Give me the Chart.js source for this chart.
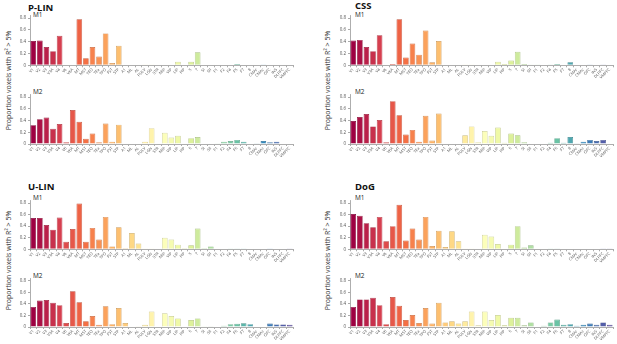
<!DOCTYPE html>
<html>
<head>
<meta charset="utf-8">
<script src="https://cdn.jsdelivr.net/npm/chart.js@4.4.0/dist/chart.umd.min.js"></script>
<style>
body{margin:0;background:#fff;width:617px;height:344px;position:relative;overflow:hidden;font-family:"Open Sans",sans-serif}
canvas{position:absolute}
.ttl{position:absolute;font-weight:bold;font-size:9.5px;color:#111;line-height:1}
.sub{position:absolute;font-size:6.5px;color:#222;line-height:1}
.ylab{position:absolute;width:140px;text-align:center;font-size:7px;color:#333;line-height:1;transform:rotate(-90deg);white-space:nowrap}
</style>
</head>
<body>
<div class="ttl" style="left:28px;top:3px">P-LIN</div>
<div class="ttl" style="left:355px;top:1px">CSS</div>
<div class="ttl" style="left:28px;top:182px">U-LIN</div>
<div class="ttl" style="left:355px;top:182px">DoG</div>
<div class="sub" style="left:33px;top:12px">M1</div>
<div class="sub" style="left:33px;top:89px">M2</div>
<div class="sub" style="left:355px;top:12px">M1</div>
<div class="sub" style="left:355px;top:89px">M2</div>
<div class="sub" style="left:33px;top:195px">M1</div>
<div class="sub" style="left:33px;top:273px">M2</div>
<div class="sub" style="left:355px;top:195px">M1</div>
<div class="sub" style="left:355px;top:273px">M2</div>
<div class="ylab" style="left:-62px;top:77px">Proportion voxels with R² &gt; 5%</div>
<div class="ylab" style="left:257px;top:77px">Proportion voxels with R² &gt; 5%</div>
<div class="ylab" style="left:-62px;top:257px">Proportion voxels with R² &gt; 5%</div>
<div class="ylab" style="left:257px;top:257px">Proportion voxels with R² &gt; 5%</div>
<canvas id="plinM1"></canvas>
<canvas id="plinM2"></canvas>
<canvas id="cssM1"></canvas>
<canvas id="cssM2"></canvas>
<canvas id="ulinM1"></canvas>
<canvas id="ulinM2"></canvas>
<canvas id="dogM1"></canvas>
<canvas id="dogM2"></canvas>
<script>
var areas = ["V1","V2","V3","V3A","V4","V6","V6A","MT","MST","TEO",
             "TEa","TPO","FST","STP","A1","ML","AL","PULV","LGN","STR",
             "MIP","VIP","LIP","PIP","5","7","SI","SII","F1","F2",
             "F4","F5","F7","8","CMAr","CMAc","OFC","INS","DLPFC","VMPFC"];

var yTicks = [0, 0.2, 0.4, 0.6, 0.8];

var plinM1 = [0.41,0.42,0.31,0.24,0.50,0,0.01,0.78,0.12,0.31,
              0.15,0.54,0.04,0.33,0,0,0,0.003,0.005,0,
              0.008,0,0.06,0.01,0.06,0.22,0.01,0,0,0,
              0,0.02,0,0.01,0,0.005,0,0,0.01,0];
var plinM2 = [0.32,0.42,0.45,0.26,0.34,0.03,0.58,0.38,0.09,0.18,
              0.03,0.35,0.04,0.33,0,0.01,0.01,0.04,0.27,0.01,
              0.19,0.11,0.14,0.01,0.10,0.12,0.01,0,0.003,0.04,
              0.05,0.07,0.04,0,0.005,0.05,0.03,0.04,0,0];
var cssM1 = [0.42,0.43,0.31,0.24,0.51,0,0.02,0.78,0.13,0.37,
             0.18,0.59,0.05,0.41,0,0,0,0.005,0.015,0,
             0.01,0,0.06,0.02,0.08,0.23,0.02,0.005,0.003,0,
             0.005,0.02,0,0.05,0,0.01,0.005,0,0.005,0];
var cssM2 = [0.39,0.46,0.51,0.30,0.41,0.03,0.73,0.49,0.16,0.24,
             0.04,0.48,0.06,0.52,0,0,0,0.15,0.30,0.03,
             0.22,0.14,0.28,0.02,0.18,0.15,0.03,0.01,0.01,0.01,
             0.02,0.10,0.02,0.12,0.005,0.04,0.07,0.05,0.07,0.01];
var ulinM1 = [0.54,0.54,0.42,0.34,0.55,0.13,0.35,0.79,0.13,0.37,
              0.17,0.56,0.05,0.38,0.02,0.28,0.10,0.003,0.005,0,
              0.20,0.17,0.08,0.02,0.07,0.36,0.02,0.05,0,0,
              0.003,0.003,0.015,0,0.01,0,0.003,0,0,0.005];
var ulinM2 = [0.35,0.46,0.47,0.42,0.38,0.07,0.62,0.43,0.10,0.19,
              0.04,0.36,0.05,0.33,0.07,0.01,0.005,0.04,0.27,0.01,
              0.24,0.19,0.15,0.01,0.12,0.15,0.015,0.005,0.01,0.02,
              0.05,0.055,0.065,0.05,0,0.01,0.06,0.045,0.045,0.04];
var dogM1 = [0.61,0.58,0.45,0.38,0.56,0.14,0.40,0.77,0.15,0.36,
             0.17,0.56,0.055,0.32,0.04,0.31,0.14,0.005,0.015,0,
             0.25,0.22,0.09,0.01,0.08,0.40,0.03,0.07,0,0,
             0.003,0.015,0,0.01,0,0.01,0.008,0,0.005,0.005];
var dogM2 = [0.35,0.48,0.48,0.51,0.38,0.05,0.52,0.37,0.12,0.21,
             0.07,0.33,0.06,0.42,0.08,0.10,0.06,0.10,0.27,0.03,
             0.27,0.12,0.21,0.03,0.16,0.16,0.03,0.08,0.01,0.02,
             0.08,0.13,0.04,0.05,0.02,0.04,0.06,0.04,0.08,0.04];

// spectral colormap, one colour per area
var spectral = ["#9e0142","#d53e4f","#f46d43","#fdae61","#fee08b","#ffffbf",
                "#e6f598","#abdda4","#66c2a5","#3288bd","#5e4fa2"];

function hexRgb(h) {
    return [parseInt(h.substr(1,2),16), parseInt(h.substr(3,2),16), parseInt(h.substr(5,2),16)];
}

function cmap(t, k) {
    var p = t * 10;
    var i = Math.min(9, Math.floor(p));
    var f = p - i;
    var a = hexRgb(spectral[i]), b = hexRgb(spectral[i+1]);
    var c = [0,1,2].map(function(j){ return Math.round((a[j] + (b[j]-a[j])*f) * k); });
    return "rgb(" + c.join(",") + ")";
}

var fills = areas.map(function(a, i){ return cmap(i / (areas.length - 1), 1); });
var edges = areas.map(function(a, i){ return cmap(i / (areas.length - 1), 0.8); });

var yMax = 0.84;

function drawPanel(id, values, axisX, zeroY, ppu) {
    var plotTop = zeroY - yMax * ppu;
    var top = Math.floor(plotTop) - 2;
    var xAxisH = 26;
    var w = 300, h = Math.ceil(zeroY + xAxisH - top);
    var cv = document.getElementById(id);
    cv.width = w;
    cv.height = h;
    cv.style.left = (axisX - 28) + "px";
    cv.style.top = top + "px";
    new Chart(cv.getContext("2d"), {
        type: "bar",
        data: {
            labels: areas,
            datasets: [{
                data: values,
                backgroundColor: fills,
                borderColor: edges,
                borderWidth: 0.7,
                categoryPercentage: 0.86,
                barPercentage: 1
            }]
        },
        options: {
            responsive: false,
            animation: false,
            devicePixelRatio: 1,
            layout: {padding: {left: 0, right: w - 28 - 263, top: plotTop - top, bottom: h - (zeroY - top) - xAxisH}},
            plugins: {legend: {display: false}, tooltip: {enabled: false}},
            scales: {
                x: {
                    afterFit: function(s){ s.height = xAxisH; },
                    grid: {display: true, drawOnChartArea: false, drawTicks: true, tickLength: 2, color: "#aaa"},
                    border: {color: "#999", width: 0.8},
                    ticks: {autoSkip: false, minRotation: 45, maxRotation: 45, padding: 0,
                            color: "#555", font: {family: "Open Sans", size: 4}}
                },
                y: {
                    min: 0, max: yMax,
                    afterFit: function(s){ s.width = 28; },
                    afterBuildTicks: function(s){ s.ticks = yTicks.map(function(v){ return {value: v}; }); },
                    grid: {display: true, drawOnChartArea: false, drawTicks: true, tickLength: 2, color: "#aaa"},
                    border: {color: "#999", width: 0.8},
                    ticks: {padding: 2, color: "#555", font: {family: "Open Sans", size: 4.5},
                            callback: function(v){ return v === 0 ? "0" : v.toFixed(1); }}
                }
            }
        }
    });
}

drawPanel("plinM1", plinM1, 30, 65.3, 61.6);
drawPanel("plinM2", plinM2, 30, 144, 61.6);
drawPanel("cssM1", cssM1, 350, 65.3, 61.6);
drawPanel("cssM2", cssM2, 350, 144, 61.4);
drawPanel("ulinM1", ulinM1, 30, 249.3, 60.75);
drawPanel("ulinM2", ulinM2, 30, 327, 60.4);
drawPanel("dogM1", dogM1, 350, 249.3, 60.75);
drawPanel("dogM2", dogM2, 350, 327, 60.4);
</script>
</body>
</html>
